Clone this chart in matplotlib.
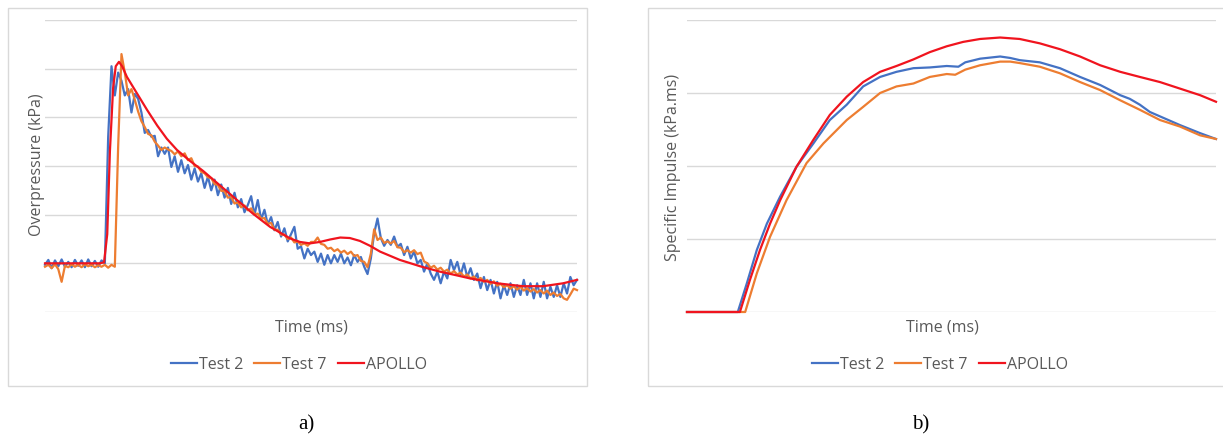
import numpy as np
import matplotlib
matplotlib.use("Agg")
import matplotlib.pyplot as plt
from matplotlib.patches import Rectangle

# ---------------- (a) overpressure histories ----------------
sample_step = 0.625  # ms between logged gauge samples

test2_pressure = [
    0.97, 1.07, 0.90, 1.06, 0.94, 1.08, 0.93, 1.03, 0.92, 1.07,
    0.95, 1.06, 0.92, 1.08, 0.94, 1.05, 0.93, 1.06, 1.00,
    3.60, 5.05, 4.45, 4.92, 4.75, 4.45, 4.58, 4.10, 4.48, 4.38,
    4.10, 3.68, 3.74, 3.60, 3.62, 3.20, 3.38, 3.25, 3.38, 2.98, 3.20,
    2.88, 3.12, 2.85, 3.02, 2.72, 2.95, 2.68, 2.85, 2.55, 2.78,
    2.50, 2.72, 2.40, 2.62, 2.35, 2.55, 2.22, 2.45, 2.15, 2.32,
    2.05, 2.20, 2.38, 2.00, 2.30, 1.90, 2.10, 1.80, 1.95, 1.68,
    1.85, 1.55, 1.72, 1.45, 1.60, 1.75, 1.30, 1.35, 1.10, 1.30,
    1.17, 1.24, 1.03, 1.20, 0.97, 1.17, 1.00, 1.17, 1.03, 1.20,
    1.00, 1.12, 0.96, 1.17, 1.03, 1.13, 0.93, 0.78, 1.10, 1.62,
    1.92, 1.52, 1.36, 1.48, 1.38, 1.55, 1.34, 1.40, 1.17, 1.34,
    1.10, 1.24, 1.00, 1.07, 0.83, 1.00,
    0.79, 0.66, 0.83, 0.59, 0.83, 0.69, 1.07, 0.86, 1.03, 0.76,
    1.00, 0.72, 0.90, 0.66, 0.79, 0.49, 0.72, 0.45, 0.66, 0.38,
    0.62, 0.28, 0.55, 0.35, 0.59, 0.31, 0.55, 0.35, 0.66, 0.35,
    0.59, 0.28, 0.59, 0.31, 0.62, 0.28, 0.52, 0.31, 0.55, 0.31,
    0.59, 0.38, 0.72, 0.55, 0.66,
]

test7_pressure = [
    0.93, 0.97, 0.90, 0.98, 0.88, 0.62, 0.95, 0.92, 0.98, 0.93,
    0.97, 0.92, 0.98, 0.94, 0.97, 0.92, 0.96, 0.93, 0.97, 0.91,
    0.97, 0.93,
    3.40, 5.30,
    4.92, 4.45, 4.58, 4.36, 4.12, 3.92, 3.80, 3.66, 3.63, 3.50,
    3.42, 3.33, 3.38, 3.34, 3.31, 3.24, 3.30, 3.20, 3.26, 3.12,
    3.16, 3.00, 2.99, 2.88, 2.85, 2.77, 2.75, 2.63, 2.61, 2.49,
    2.48, 2.35, 2.36, 2.23, 2.25, 2.15, 2.19, 2.09, 2.13, 2.01,
    2.02, 1.92, 1.93, 1.81, 1.83, 1.69, 1.69, 1.59, 1.59, 1.50,
    1.53, 1.43, 1.45, 1.38, 1.41, 1.36, 1.44, 1.44, 1.53, 1.40,
    1.38, 1.30, 1.32, 1.25, 1.29, 1.22, 1.26, 1.19, 1.24, 1.15,
    1.17, 1.05, 1.03, 0.92, 1.20, 1.70, 1.48, 1.53, 1.42, 1.45,
    1.41, 1.46, 1.33, 1.32, 1.23, 1.27, 1.22, 1.27, 1.19, 1.22,
    1.04, 1.00, 0.91, 0.95, 0.87, 0.91, 0.83, 0.87, 0.79, 0.84,
    0.77, 0.81, 0.73, 0.77, 0.69, 0.73, 0.65, 0.70, 0.62, 0.66,
    0.58, 0.63, 0.54, 0.58, 0.51, 0.55, 0.48, 0.53, 0.46, 0.52,
    0.44, 0.49, 0.42, 0.47, 0.40, 0.45, 0.38, 0.44, 0.35, 0.40,
    0.33, 0.37, 0.28, 0.25, 0.36, 0.48, 0.45,
]

apollo_time = [
    0.0, 10.3, 11.1, 11.7, 12.2, 12.8, 13.3, 13.9, 14.5, 15.4,
    17.3, 19.2, 21.1, 22.9, 24.8, 27.3, 29.7, 32.9, 36.1, 39.1,
    42.3, 46.1, 47.9, 49.8, 51.7, 53.6, 55.5, 57.3, 59.2, 61.1,
    63.0, 66.7, 70.5, 74.2, 77.1, 79.9, 85.0, 89.8, 93.6, 97.4, 100.0,
]
apollo_pressure = [
    1.00, 1.00, 1.02, 1.60, 3.30, 4.60, 5.05, 5.14, 5.05, 4.83,
    4.49, 4.15, 3.83, 3.56, 3.33, 3.10, 2.90, 2.60, 2.30, 2.02,
    1.75, 1.51, 1.44, 1.41, 1.44, 1.49, 1.53, 1.52, 1.46, 1.36,
    1.24, 1.07, 0.94, 0.83, 0.76, 0.69, 0.59, 0.53, 0.53, 0.59, 0.66,
]

# ---------------- (b) specific impulse ----------------
imp_test2_time = [
    0.0, 9.6, 11.3, 13.2, 15.1, 17.6, 20.7, 23.9, 27.0, 30.2,
    33.3, 36.5, 39.6, 42.8, 45.9, 49.1, 51.3, 52.6, 55.4, 59.2,
    61.1, 62.9, 66.7, 70.5, 74.3, 78.1, 81.9, 83.7, 85.6, 87.5,
    89.4, 93.2, 97.0, 100.0,
]
imp_test2 = [
    0.00, 0.00, 0.39, 0.85, 1.21, 1.58, 1.99, 2.31, 2.63, 2.84,
    3.09, 3.22, 3.29, 3.34, 3.35, 3.37, 3.36, 3.42, 3.47, 3.50,
    3.48, 3.45, 3.42, 3.34, 3.22, 3.11, 2.97, 2.92, 2.84, 2.74,
    2.68, 2.56, 2.45, 2.37,
]

imp_test7_time = [
    0.0, 11.0, 13.2, 15.7, 18.8, 22.6, 25.8, 30.2, 33.3, 36.5,
    39.6, 42.8, 45.9, 49.1, 50.7, 52.6, 55.4, 59.2, 61.1, 62.9,
    66.7, 70.5, 74.3, 78.1, 81.9, 85.6, 87.5, 89.4, 93.2, 97.0, 100.0,
]
imp_test7 = [
    0.00, 0.00, 0.53, 1.03, 1.53, 2.04, 2.31, 2.63, 2.81, 3.00,
    3.09, 3.13, 3.22, 3.26, 3.25, 3.32, 3.38, 3.43, 3.43, 3.41,
    3.36, 3.27, 3.15, 3.04, 2.90, 2.77, 2.70, 2.63, 2.54, 2.42, 2.37,
]

imp_apollo_time = [
    0.0, 10.0, 11.9, 13.8, 15.7, 17.6, 20.7, 23.9, 27.0, 30.2,
    33.3, 36.5, 39.6, 42.8, 45.9, 49.1, 52.2, 55.4, 59.2, 62.9,
    66.7, 70.5, 74.3, 78.1, 81.9, 85.6, 89.4, 93.2, 97.0, 100.0,
]
imp_apollo = [
    0.00, 0.00, 0.44, 0.85, 1.21, 1.53, 1.99, 2.36, 2.70, 2.95,
    3.15, 3.29, 3.37, 3.46, 3.56, 3.64, 3.70, 3.74, 3.76, 3.74,
    3.68, 3.60, 3.50, 3.38, 3.29, 3.22, 3.15, 3.06, 2.97, 2.88,
]

series_names = ["Test 2", "Test 7", "APOLLO"]

# ---------------- styling ----------------
BLUE, ORANGE, RED = "#4472C4", "#ED7D31", "#F0141E"
GRID = "#D9D9D9"
TEXT = "#595959"
FONT = "Open Sans"
LW = 1.6

W, H = 1223, 441
fig = plt.figure(figsize=(W / 100, H / 100), dpi=100)


def fx(px):
    return px / W


def fy(py):
    return 1 - py / H


def panel_frame(x0, y0, x1, y1):
    fig.add_artist(Rectangle((fx(x0), fy(y1)), fx(x1) - fx(x0), fy(y0) - fy(y1),
                             transform=fig.transFigure, fill=False,
                             ec=GRID, lw=1.0, zorder=0))


def style_axes(ax, n_grid):
    ax.set_ylim(0, n_grid)
    ax.set_xlim(0, 100)
    ax.set_yticks(range(n_grid + 1))
    ax.set_xticks([])
    ax.tick_params(length=0, labelleft=False, labelbottom=False)
    for s in ax.spines.values():
        s.set_visible(False)
    ax.yaxis.grid(True, color=GRID, lw=1.0)
    ax.set_axisbelow(True)
    ax.patch.set_alpha(0)


panel_frame(8, 8, 587, 386)
panel_frame(648, 8, 1232, 386)

# (a)
ax1 = fig.add_axes([fx(45), fy(312), fx(577) - fx(45), fy(20) - fy(312)])
style_axes(ax1, 6)
t_gauge = np.arange(len(test2_pressure)) * sample_step
ax1.plot(t_gauge, test2_pressure, color=BLUE, lw=LW, label=series_names[0], clip_on=False)
ax1.plot(t_gauge, test7_pressure, color=ORANGE, lw=LW, label=series_names[1], clip_on=False)
ax1.plot(apollo_time, apollo_pressure, color=RED, lw=LW, label=series_names[2], clip_on=False)

# (b)
ax2 = fig.add_axes([fx(687), fy(312), fx(1216) - fx(687), fy(20) - fy(312)])
style_axes(ax2, 4)
ax2.plot(imp_test2_time, imp_test2, color=BLUE, lw=LW, label=series_names[0], clip_on=False)
ax2.plot(imp_test7_time, imp_test7, color=ORANGE, lw=LW, label=series_names[1], clip_on=False)
ax2.plot(imp_apollo_time, imp_apollo, color=RED, lw=LW, label=series_names[2], clip_on=False)

FS = 11.5
fig.text(fx(37), fy(165), "Overpressure (kPa)", rotation=90, ha="center", va="center",
         color=TEXT, fontsize=FS, family=FONT)
fig.text(fx(673), fy(167), "Specific Impulse (kPa.ms)", rotation=90, ha="center", va="center",
         color=TEXT, fontsize=FS, family=FONT)
fig.text(fx(311), fy(327), "Time (ms)", ha="center", va="center",
         color=TEXT, fontsize=FS, family=FONT)
fig.text(fx(942), fy(327), "Time (ms)", ha="center", va="center",
         color=TEXT, fontsize=FS, family=FONT)

for ax, cx in ((ax1, 299), (ax2, 940)):
    leg = ax.legend(loc="center", bbox_to_anchor=(fx(cx), fy(365)),
                    bbox_transform=fig.transFigure, ncol=3, frameon=False,
                    handlelength=1.6, handletextpad=0.15, columnspacing=0.7,
                    prop={"family": FONT, "size": FS})
    for txt in leg.get_texts():
        txt.set_color(TEXT)

fig.text(fx(306), fy(425), "a)", ha="center", va="center", fontsize=15,
         family="Liberation Serif", color="black")
fig.text(fx(921), fy(425), "b)", ha="center", va="center", fontsize=15,
         family="Liberation Serif", color="black")

fig.savefig("out.png", dpi=100)
